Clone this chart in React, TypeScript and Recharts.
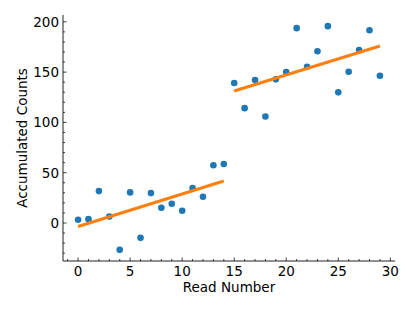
import { ScatterChart, Scatter, XAxis, YAxis } from 'recharts';

const readNumbers = [0, 1, 2, 3, 4, 5, 6, 7, 8, 9, 10, 11, 12, 13, 14, 15, 16, 17, 18, 19, 20, 21, 22, 23, 24, 25, 26, 27, 28, 29];
const counts = [3.2, 3.8, 31.7, 6.5, -26.7, 30.4, -14.8, 29.7, 15.2, 19.1, 12.2, 34.7, 26.1, 57.4, 58.7, 139.2, 114.2, 142.1, 105.9, 142.8, 150.1, 193.7, 155.4, 170.7, 195.7, 129.9, 150.4, 172, 191.7, 146.4];

// fitted lines, end points
const fitEarlyX = [0, 14];
const fitEarlyY = [-3.5, 41.7];
const fitLateX = [15, 29];
const fitLateY = [131.2, 176];

const xMajor = [0, 5, 10, 15, 20, 25, 30];
const xTicks = [-1, 0, 1, 2, 3, 4, 5, 6, 7, 8, 9, 10, 11, 12, 13, 14, 15, 16, 17, 18, 19, 20, 21, 22, 23, 24, 25, 26, 27, 28, 29, 30];
const yMajor = [0, 50, 100, 150, 200];
const yTicks = [-30, -20, -10, 0, 10, 20, 30, 40, 50, 60, 70, 80, 90, 100, 110, 120, 130, 140, 150, 160, 170, 180, 190, 200];

const points = readNumbers.map((x, i) => ({ x, y: counts[i] }));
const fitEarly = fitEarlyX.map((x, i) => ({ x, y: fitEarlyY[i] }));
const fitLate = fitLateX.map((x, i) => ({ x, y: fitLateY[i] }));

const W = 415;
const H = 311;
const PLOT = { left: 63, right: 395, top: 15, bottom: 261 };
const FONT = 'DejaVu Sans, sans-serif';
const FS = 13.5;
const TICK = '#111';

const BottomTick = (props: any) => {
  const { x, payload } = props;
  const major = xMajor.includes(payload.value);
  return (
    <g>
      <line x1={x} x2={x} y1={PLOT.bottom} y2={PLOT.bottom - (major ? 3.5 : 2)} stroke={TICK} strokeWidth={0.8} />
      {major && (
        <text x={x} y={PLOT.bottom + 14.5} textAnchor="middle" fontFamily={FONT} fontSize={FS} fill="#000">
          {payload.value}
        </text>
      )}
    </g>
  );
};

const TopTick = (props: any) => {
  const { x, payload } = props;
  const major = xMajor.includes(payload.value);
  return <line x1={x} x2={x} y1={PLOT.top} y2={PLOT.top + (major ? 3.5 : 2)} stroke={TICK} strokeWidth={0.8} />;
};

const LeftTick = (props: any) => {
  const { y, payload } = props;
  const major = yMajor.includes(payload.value);
  return (
    <g>
      <line x1={PLOT.left} x2={PLOT.left + (major ? 3.5 : 2)} y1={y} y2={y} stroke={TICK} strokeWidth={0.8} />
      {major && (
        <text x={PLOT.left - 4} y={y + 4.9} textAnchor="end" fontFamily={FONT} fontSize={FS} fill="#000">
          {payload.value}
        </text>
      )}
    </g>
  );
};

const RightTick = (props: any) => {
  const { y, payload } = props;
  const major = yMajor.includes(payload.value);
  return <line x1={PLOT.right} x2={PLOT.right - (major ? 3.5 : 2)} y1={y} y2={y} stroke={TICK} strokeWidth={0.8} />;
};

const Dot = (props: any) => <circle cx={props.cx} cy={props.cy} r={3.3} fill="#1f77b4" />;
const NoDot = () => <g />;

export default function App() {
  const axisLine = { stroke: '#222', strokeWidth: 1 };
  return (
    <div style={{ position: 'absolute', left: 0, top: 0, width: W, height: H, background: '#fff' }}>
      <ScatterChart
        width={W}
        height={H}
        margin={{ top: PLOT.top, right: W - PLOT.right, bottom: 0, left: 0 }}
      >
        <XAxis
          xAxisId={0}
          type="number"
          dataKey="x"
          domain={[-1.45, 30.45]}
          allowDataOverflow
          ticks={xTicks}
          interval={0}
          tick={BottomTick}
          tickLine={false}
          tickSize={0}
          axisLine={axisLine}
          height={H - PLOT.bottom}
          label={{
            content: () => (
              <text x={(PLOT.left + PLOT.right) / 2} y={292} textAnchor="middle" fontFamily={FONT} fontSize={FS} fill="#000">
                Read Number
              </text>
            ),
          }}
        />
        <XAxis
          xAxisId="top"
          orientation="top"
          type="number"
          dataKey="x"
          domain={[-1.45, 30.45]}
          allowDataOverflow
          ticks={xTicks}
          interval={0}
          tick={TopTick}
          tickLine={false}
          tickSize={0}
          axisLine={axisLine}
          height={0}
        />
        <YAxis
          yAxisId={0}
          type="number"
          dataKey="y"
          domain={[-37.8, 206.8]}
          allowDataOverflow
          ticks={yTicks}
          interval={0}
          tick={LeftTick}
          tickLine={false}
          tickSize={0}
          axisLine={axisLine}
          width={PLOT.left}
          label={{
            content: () => (
              <text
                x={0}
                y={0}
                transform={`translate(27.3, ${(PLOT.top + PLOT.bottom) / 2}) rotate(-90)`}
                textAnchor="middle"
                fontFamily={FONT}
                fontSize={FS}
                fill="#000"
              >
                Accumulated Counts
              </text>
            ),
          }}
        />
        <YAxis
          yAxisId="right"
          orientation="right"
          type="number"
          dataKey="y"
          domain={[-37.8, 206.8]}
          allowDataOverflow
          ticks={yTicks}
          interval={0}
          tick={RightTick}
          tickLine={false}
          tickSize={0}
          axisLine={axisLine}
          width={0}
        />
        <Scatter data={points} shape={Dot} isAnimationActive={false} />
        <Scatter data={fitEarly} shape={NoDot} line={{ stroke: '#ff7f0e', strokeWidth: 3 }} isAnimationActive={false} />
        <Scatter data={fitLate} shape={NoDot} line={{ stroke: '#ff7f0e', strokeWidth: 3 }} isAnimationActive={false} />
      </ScatterChart>
    </div>
  );
}
